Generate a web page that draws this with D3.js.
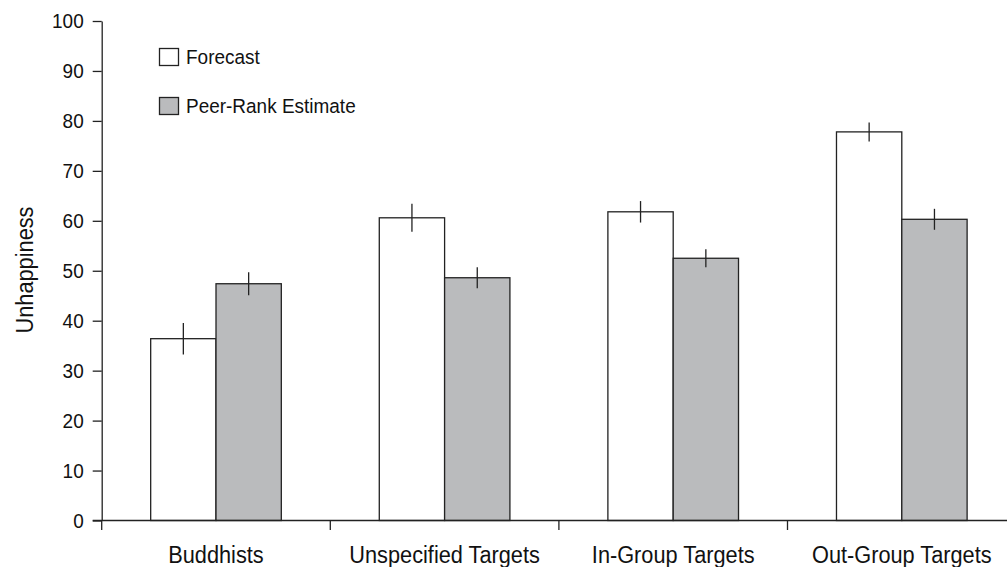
<!DOCTYPE html>
<html>
<head>
<meta charset="utf-8">
<script src="https://cdn.jsdelivr.net/npm/d3@7"></script>
<style>
  html, body { margin: 0; padding: 0; background: #fff; }
  svg { display: block; }
  text { font-family: "Liberation Sans", Arial, sans-serif; fill: #111; }
</style>
</head>
<body>
<svg id="chart" width="1007" height="567"></svg>
<script>
// Group labels along the x axis
const categories = ["Buddhists", "Unspecified Targets", "In-Group Targets", "Out-Group Targets"];
// Series names (legend order)
const seriesNames = ["Forecast", "Peer-Rank Estimate"];
// Mean unhappiness per group
const forecastValues = [36.4, 60.6, 61.8, 77.8];
const peerRankValues = [47.4, 48.6, 52.5, 60.3];
// Error bar half-widths
const forecastErrors = [3.15, 2.8, 2.15, 1.9];
const peerRankErrors = [2.3, 2.1, 1.8, 2.1];
// Y axis ticks
const yTicks = [0, 10, 20, 30, 40, 50, 60, 70, 80, 90, 100];

const seriesFill = { "Forecast": "#ffffff", "Peer-Rank Estimate": "#babbbd" };
const ink = "#222";

const rows = categories.map((c, i) => ({
  category: c,
  values: [
    { series: seriesNames[0], value: forecastValues[i], err: forecastErrors[i] },
    { series: seriesNames[1], value: peerRankValues[i], err: peerRankErrors[i] }
  ]
}));

const svg = d3.select("#chart");
const left = 101.7, step = 228.6;

const y = d3.scaleLinear().domain([0, 100]).range([520.5, 21]);
const x0 = d3.scaleBand().domain(categories).range([left, left + step * categories.length]).padding(0);
const x1 = d3.scaleBand().domain(seriesNames).range([0, x0.bandwidth()]).paddingInner(0).paddingOuter(0.75);

// Bars
const groups = svg.append("g").selectAll("g")
  .data(rows).join("g")
  .attr("transform", d => `translate(${x0(d.category)},0)`);

groups.selectAll("rect")
  .data(d => d.values).join("rect")
  .attr("x", d => x1(d.series))
  .attr("y", d => y(d.value))
  .attr("width", x1.bandwidth())
  .attr("height", d => y(0) - y(d.value))
  .attr("fill", d => seriesFill[d.series])
  .attr("stroke", ink)
  .attr("stroke-width", 1.3);

// Error bars (vertical whiskers, no caps)
groups.selectAll("line.err")
  .data(d => d.values).join("line")
  .attr("class", "err")
  .attr("x1", d => x1(d.series) + x1.bandwidth() / 2)
  .attr("x2", d => x1(d.series) + x1.bandwidth() / 2)
  .attr("y1", d => y(d.value + d.err))
  .attr("y2", d => y(d.value - d.err))
  .attr("stroke", ink)
  .attr("stroke-width", 1.3);

// Y axis
const yAxis = svg.append("g")
  .attr("transform", `translate(${left},0)`)
  .call(d3.axisLeft(y).tickValues(yTicks).tickSize(9).tickSizeOuter(0).tickPadding(9));
yAxis.select(".domain").attr("stroke", ink).attr("stroke-width", 1.3);
yAxis.selectAll(".tick line").attr("stroke", ink).attr("stroke-width", 1.3);
yAxis.selectAll(".tick text")
  .style("font-size", "20.5px")
  .style("font-family", '"Liberation Sans", Arial, sans-serif')
  .attr("fill", "#111");

// X axis: baseline, boundary ticks and centred group labels
const xAxis = svg.append("g");
xAxis.append("line")
  .attr("x1", left - 9).attr("x2", 1007)
  .attr("y1", y(0)).attr("y2", y(0))
  .attr("stroke", ink).attr("stroke-width", 1.3);
xAxis.selectAll("line.tick")
  .data(categories).join("line")
  .attr("class", "tick")
  .attr("x1", d => x0(d)).attr("x2", d => x0(d))
  .attr("y1", y(0)).attr("y2", y(0) + 9.5)
  .attr("stroke", ink).attr("stroke-width", 1.3);
xAxis.selectAll("text")
  .data(categories).join("text")
  .attr("x", d => x0(d) + x0.bandwidth() / 2)
  .attr("y", 562.7)
  .attr("text-anchor", "middle")
  .style("font-size", "23.5px")
  .text(d => d);

// Y axis title
svg.append("text")
  .attr("transform", "translate(32.5,270) rotate(-90)")
  .attr("text-anchor", "middle")
  .style("font-size", "23.5px")
  .text("Unhappiness");

// Legend
const legendY = [48.5, 97.5];
const legend = svg.append("g").selectAll("g")
  .data(seriesNames).join("g")
  .attr("transform", (d, i) => `translate(159.5,${legendY[i]})`);
legend.append("rect")
  .attr("width", 19).attr("height", 17)
  .attr("fill", d => seriesFill[d])
  .attr("stroke", ink).attr("stroke-width", 1.3);
legend.append("text")
  .attr("x", 26.5).attr("y", 15.5)
  .style("font-size", "20.5px")
  .text(d => d);

// Condensed lettering: narrow every label horizontally
svg.selectAll("text").each(function () {
  const len = this.getComputedTextLength();
  if (len > 0) {
    d3.select(this)
      .attr("textLength", (len * 0.925).toFixed(2))
      .attr("lengthAdjust", "spacingAndGlyphs");
  }
});
</script>
</body>
</html>
